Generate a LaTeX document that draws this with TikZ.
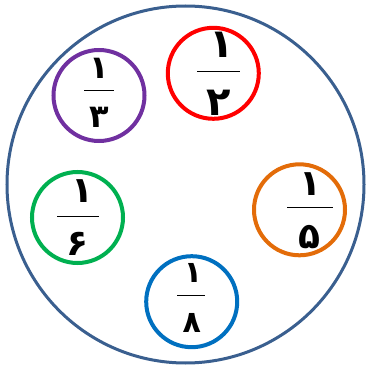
\documentclass[tikz,border=0pt]{standalone}
\usepackage{fontspec}
\newfontfamily\arabicfont[Script=Arabic]{DejaVu Sans}
\TeXXeTstate=1
\definecolor{bigc}{HTML}{3A5F8F}
\definecolor{cpurple}{HTML}{7030A0}
\definecolor{cred}{HTML}{FF0000}
\definecolor{cgreen}{HTML}{00B050}
\definecolor{corange}{HTML}{E36C09}
\definecolor{cblue}{HTML}{0070C0}
\tikzset{
  ring/.style={circle, draw=#1, line width=4pt, minimum size=91pt, inner sep=0pt},
  dig/.style={font=\arabicfont\bfseries\fontsize{#1}{#1}\selectfont, inner sep=0pt, anchor=center},
  bar/.style={line width=1.3pt, black}
}
\begin{document}
\begin{tikzpicture}[x=1pt,y=-1pt]
\useasboundingbox (0,0) rectangle (367,366);
\node[circle, draw=bigc, line width=3pt, minimum size=357pt, inner sep=0pt] (big) at (185.5,184.5) {};
% purple 1/3
\node[ring=cpurple] (p) at (99,95.5) {};
\node[dig=32] (pn) at (99,68.5) {\beginR ۱\endR};
\node[dig=32] (pd) at (99,117.5) {\beginR ۳\endR};
\draw[bar] (84,90.7) -- (114,90.7);
% red 1/2
\node[ring=cred] (r) at (213.3,73.3) {};
\node[dig=40] (rn) at (222,45) {\beginR ۱\endR};
\node[dig=40] (rd) at (219,103) {\beginR ۲\endR};
\draw[bar] (197,71.3) -- (240,71.3);
% green 1/6
\node[ring=cgreen] (g) at (77.5,217.5) {};
\node[dig=36] (gn) at (82,191.5) {\beginR ۱\endR};
\node[dig=36] (gd) at (77,243.5) {\beginR ۶\endR};
\draw[bar] (57,216.7) -- (99,216.7);
% orange 1/5
\node[ring=corange] (o) at (299.5,209.8) {};
\node[dig=36] (on) at (310,184) {\beginR ۱\endR};
\node[dig=36] (od) at (309,237.5) {\beginR ۵\endR};
\draw[bar] (287,207.3) -- (333,207.3);
% blue 1/8
\node[ring=cblue] (b) at (191.7,301.7) {};
\node[dig=30] (bn) at (193,273) {\beginR ۱\endR};
\node[dig=30] (bd) at (191.7,322.5) {\beginR ۸\endR};
\draw[bar] (177,295.7) -- (205,295.7);
\end{tikzpicture}
\end{document}
